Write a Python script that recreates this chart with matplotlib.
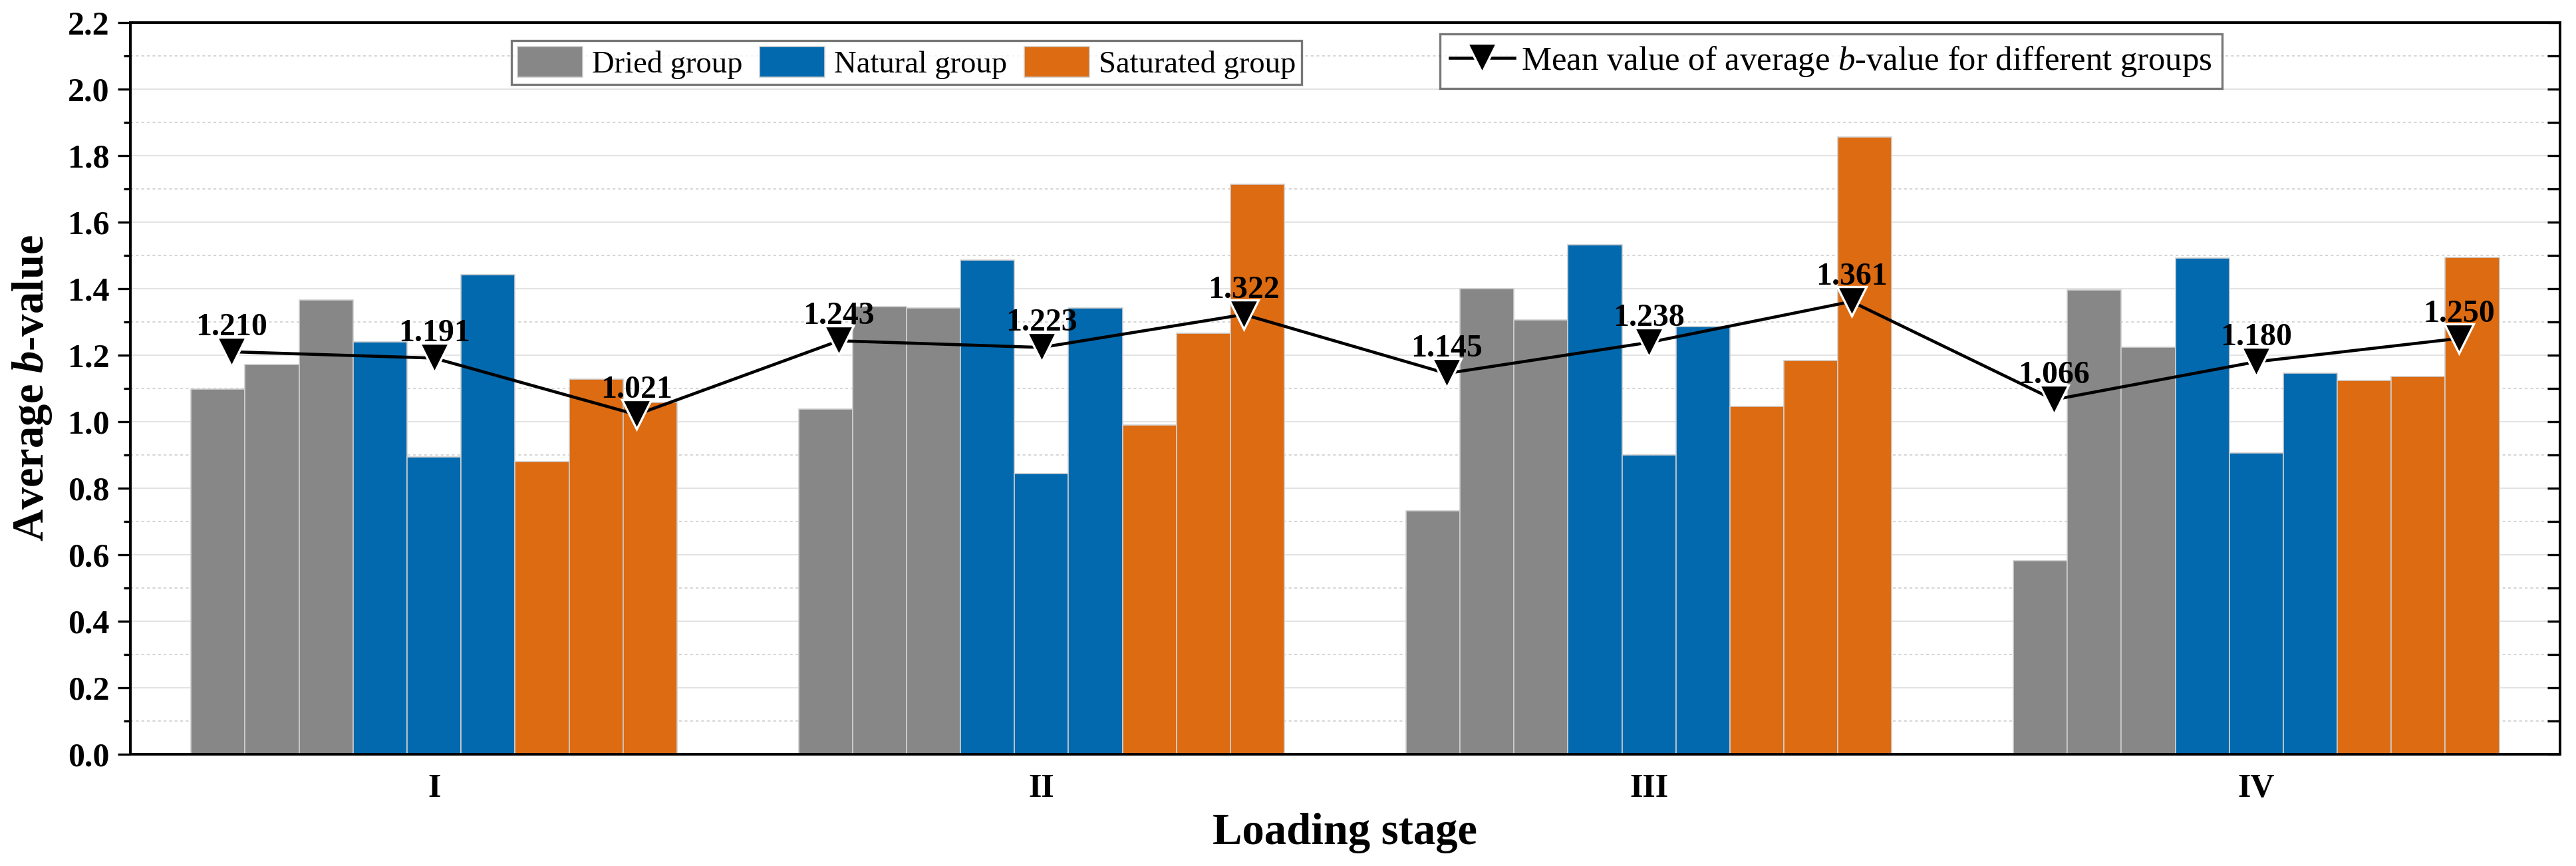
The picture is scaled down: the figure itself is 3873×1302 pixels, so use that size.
import numpy as np
import matplotlib
matplotlib.use("Agg")
import matplotlib.pyplot as plt
from matplotlib.lines import Line2D
from matplotlib.patches import Patch

plt.rcParams['font.family'] = ['Liberation Serif', 'DejaVu Serif']
plt.rcParams['mathtext.fontset'] = 'custom'
plt.rcParams['mathtext.rm'] = 'Liberation Serif'
plt.rcParams['mathtext.it'] = 'Liberation Serif:italic'
plt.rcParams['mathtext.bf'] = 'Liberation Serif:bold'
plt.rcParams['mathtext.bfit'] = 'Liberation Serif:italic:bold'

# data
stages = ['I', 'II', 'III', 'IV']
dried = [[1.097, 1.172, 1.365],
         [1.038, 1.346, 1.342],
         [0.732, 1.400, 1.306],
         [0.582, 1.395, 1.223]]
natural = [[1.240, 0.894, 1.441],
           [1.486, 0.843, 1.341],
           [1.531, 0.899, 1.286],
           [1.491, 0.905, 1.145]]
saturated = [[0.879, 1.127, 1.057],
             [0.989, 1.266, 1.713],
             [1.045, 1.183, 1.856],
             [1.123, 1.135, 1.494]]
mean_vals = [[1.210, 1.191, 1.021],
             [1.243, 1.223, 1.322],
             [1.145, 1.238, 1.361],
             [1.066, 1.180, 1.250]]

group_names = ['Dried group', 'Natural group', 'Saturated group']
colors = ['#878787', '#0369AE', '#DD6B12']

fig = plt.figure(figsize=(3873 / 300, 1302 / 300), dpi=300)
ax = fig.add_axes([0.0506, 0.129, 0.9432, 0.8451])

x = np.arange(1, len(stages) + 1)
w = 0.8 / 9

for g, data in enumerate([dried, natural, saturated]):
    data = np.array(data)
    for k in range(3):
        pos = x + (g * 3 + k - 4) * w
        ax.bar(pos, data[:, k], width=w, color=colors[g],
               edgecolor='#cfcfcf', linewidth=0.4, zorder=2)

# mean line
mx = []
my = []
for i in range(len(stages)):
    for j, off in enumerate([-1 / 3, 0, 1 / 3]):
        mx.append(x[i] + off)
        my.append(mean_vals[i][j])
ax.plot(mx, my, color='black', linewidth=1.1, marker='v', markersize=10.5,
        markerfacecolor='black', markeredgecolor='white', markeredgewidth=0.8,
        zorder=4)
for xx, yy in zip(mx, my):
    ax.annotate('%.3f' % yy, (xx, yy), xytext=(0, 6), textcoords='offset points',
                ha='center', va='baseline', fontsize=11.5, fontweight='bold', zorder=5)

ax.set_xlim(0.5, 4.5)
ax.set_ylim(0, 2.2)
ax.set_yticks(np.arange(0, 2.21, 0.2))
ax.set_yticks(np.arange(0.1, 2.2, 0.2), minor=True)
ax.set_yticklabels(['%.1f' % v for v in np.arange(0, 2.21, 0.2)])
ax.set_xticks(x)
ax.set_xticklabels(stages)

for lab in ax.get_yticklabels():
    lab.set_fontweight('bold')
    lab.set_fontsize(12)
for lab in ax.get_xticklabels():
    lab.set_fontweight('bold')
    lab.set_fontsize(12)

ax.tick_params(axis='y', which='major', direction='out', length=4.5, width=0.8, pad=3)
ax.tick_params(axis='y', which='minor', direction='out', length=2.4, width=0.8)
ax.tick_params(axis='x', which='both', length=0, pad=7)

# right side ticks (inward, no labels)
ax2 = ax.twinx()
ax2.set_ylim(0, 2.2)
ax2.set_yticks(np.arange(0, 2.21, 0.2))
ax2.set_yticks(np.arange(0.1, 2.2, 0.2), minor=True)
ax2.tick_params(axis='y', which='both', direction='in', length=4.5, width=0.8,
                labelright=False)

for sp in ax.spines.values():
    sp.set_linewidth(0.9)
for sp in ax2.spines.values():
    sp.set_linewidth(0.9)

ax.grid(axis='y', which='major', color='#e3e3e3', linewidth=0.5, zorder=0)
ax.grid(axis='y', which='minor', color='#d6d6d6', linewidth=0.5, linestyle=(0, (2, 2)), zorder=0)
ax.set_axisbelow(True)

ax.set_xlabel('Loading stage', fontsize=16, fontweight='bold', labelpad=3)
ax.set_ylabel(r'Average $\mathbfit{b}$-value', fontsize=16, fontweight='bold', labelpad=5)

handles = [Patch(facecolor=c, edgecolor='#cfcfcf', linewidth=0.4) for c in colors]
leg1 = ax2.legend(handles, group_names, loc='upper left', bbox_to_anchor=(0.157, 0.975),
                  ncol=3, fontsize=11.2, frameon=True, fancybox=False, borderaxespad=0,
                  handlelength=2.1, handleheight=1.15, handletextpad=0.3,
                  columnspacing=0.55, borderpad=0.18)
leg1.get_frame().set_edgecolor('#555555')
leg1.get_frame().set_linewidth(0.8)
ax2.add_artist(leg1)

h2 = Line2D([], [], color='black', linewidth=1.1, marker='v', markersize=10.5,
            markerfacecolor='black', markeredgecolor='white', markeredgewidth=0.8)
leg2 = ax2.legend([h2], [r'Mean value of average $\mathit{b}$-value for different groups'],
                  loc='upper left', bbox_to_anchor=(0.539, 0.984), fontsize=12.2,
                  frameon=True, fancybox=False, borderaxespad=0, handlelength=1.9,
                  handletextpad=0.2, borderpad=0.3)
leg2.get_frame().set_edgecolor('#555555')
leg2.get_frame().set_linewidth(0.8)

fig.savefig('out.png', dpi=300)
